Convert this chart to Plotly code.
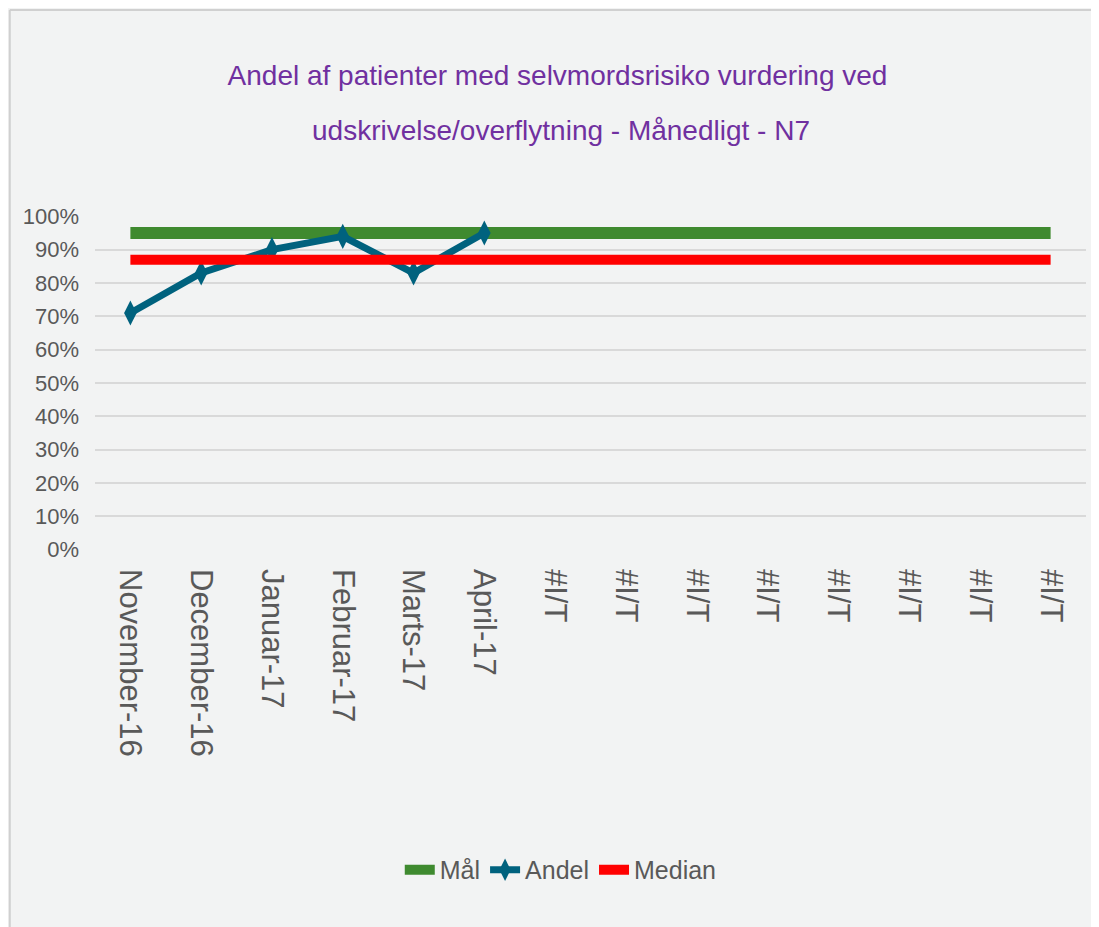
import plotly.graph_objects as go

# data
months = ["November-16", "December-16", "Januar-17", "Februar-17", "Marts-17", "April-17",
          "#I/T ", "#I/T  ", "#I/T   ", "#I/T    ", "#I/T     ", "#I/T      ", "#I/T       ", "#I/T        "]
andel = [0.71, 0.83, 0.90, 0.94, 0.83, 0.95]
maal = [0.95] * len(months)
median = [0.87] * len(months)

FONT = "Liberation Sans, Arial"
TXT = "#595959"

fig = go.Figure()

fig.add_trace(go.Scatter(x=months, y=maal, name="Mål", mode="lines",
                         line=dict(color="#3f8a2f", width=12)))
fig.add_trace(go.Scatter(x=months[:len(andel)], y=andel, name="Andel", mode="lines+markers",
                         line=dict(color="#00627e", width=7),
                         marker=dict(symbol="diamond-tall", size=18, color="#00627e")))
fig.add_trace(go.Scatter(x=months, y=median, name="Median", mode="lines",
                         line=dict(color="#ff0000", width=10)))

# only the top and left edges of the chart frame are visible in the reference
frame = dict(color="#d0d0d0", width=2)

fig.update_layout(
    width=1099, height=927,
    paper_bgcolor="#f2f3f3", plot_bgcolor="#f2f3f3",
    margin=dict(l=87, r=21, t=208, b=385),
    font=dict(family=FONT, color=TXT, size=20),
    title=dict(text="Andel af patienter med selvmordsrisiko vurdering ved",
               x=0.5, xanchor="center", y=1 - 67 / 927, yanchor="middle",
               font=dict(family=FONT, size=28, color="#7030a0")),
    annotations=[dict(text="udskrivelse/overflytning - Månedligt - N7", xref="paper", yref="paper",
                      x=0.470, y=1.257, xanchor="center", yanchor="middle", showarrow=False,
                      font=dict(family=FONT, size=28, color="#7030a0"))],
    showlegend=True,
    legend=dict(orientation="h", x=0.47, xanchor="center", y=-0.958, yanchor="middle",
                font=dict(family=FONT, size=25, color=TXT), bgcolor="rgba(0,0,0,0)",
                tracegroupgap=0),
    shapes=[
        dict(type="line", xref="paper", yref="paper", x0=-0.086, x1=1.1,
             y0=1.617, y1=1.617, line=frame, layer="below"),
        dict(type="line", xref="paper", yref="paper", x0=-0.086, x1=-0.086,
             y0=-1.2, y1=1.617, line=frame, layer="below"),
    ],
)

fig.update_xaxes(type="category", range=[-0.5, 13.5], tickangle=90, showgrid=False,
                 showline=False, ticks="", ticklabelstandoff=18,
                 tickfont=dict(size=31, color=TXT))
fig.update_yaxes(range=[-0.001, 1.001], dtick=0.1, tickformat=".0%", showgrid=True,
                 gridcolor="#d9d9d9", gridwidth=2, zeroline=False, ticks="",
                 ticklabelstandoff=15, tickfont=dict(size=22, color=TXT))

fig.write_html("out.html")
